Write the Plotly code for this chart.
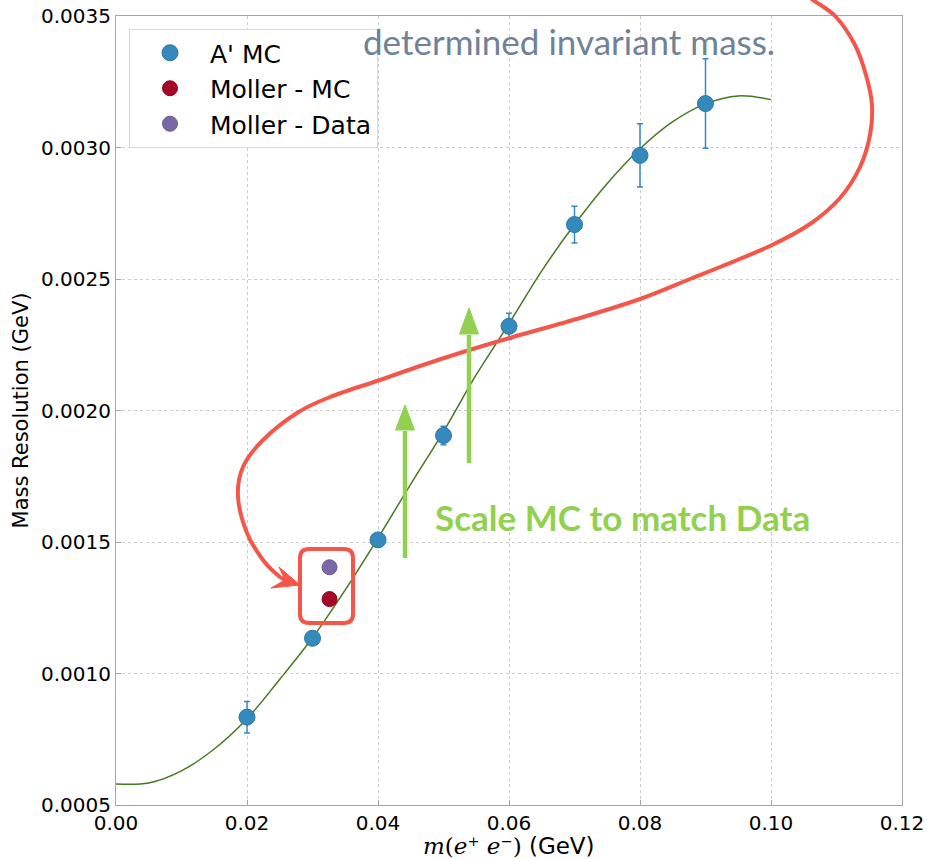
import plotly.graph_objects as go

# A' MC mass-resolution points
ap_mass = [0.02, 0.03, 0.04, 0.05, 0.06, 0.07, 0.08, 0.09]
ap_res = [0.000834, 0.001134, 0.001508, 0.001905, 0.00232, 0.002707, 0.00297, 0.003167]
ap_err = [0.00006, 0.00002, 0.00002, 0.000035, 0.00005, 0.00007, 0.00012, 0.00017]

# Moller points
moller_mass = [0.0326]
moller_mc_res = [0.001283]
moller_mc_err = [0.00002]
moller_data_res = [0.001404]
moller_data_err = [0.00002]

# Fitted resolution curve (sampled)
fit_mass = [0.0, 0.005, 0.01, 0.015, 0.02, 0.025, 0.03, 0.035, 0.04, 0.045, 0.05,
            0.055, 0.06, 0.065, 0.07, 0.075, 0.08, 0.085, 0.09, 0.095, 0.1]
fit_res = [0.00058, 0.000584, 0.00063, 0.000713, 0.000828, 0.000978, 0.001136,
           0.001318, 0.001515, 0.00172, 0.00192, 0.002136, 0.00233, 0.002531,
           0.002707, 0.002863, 0.002995, 0.003098, 0.003166, 0.003196, 0.003182]

x_ticks = [0.0, 0.02, 0.04, 0.06, 0.08, 0.10, 0.12]
y_ticks = [0.0005, 0.0010, 0.0015, 0.0020, 0.0025, 0.0030, 0.0035]

BLUE = "#348ABD"
RED = "#A60628"
PURPLE = "#7A68A6"
GREEN_FIT = "#467821"
ANNO_RED = "#F4574A"
ANNO_GREEN = "#92D050"
NOTE_GREY = "#6F8296"

W, H = 930, 859
PL, PR, PT, PB = 116, 902, 16, 805


def px(x):
    return (x - PL) / (PR - PL)


def py(y):
    return (PB - y) / (PB - PT)


def smooth_path(pts):
    """Catmull-Rom spline through pixel points, returned as a paper-space SVG path."""
    out = "M %.5f %.5f" % (px(pts[0][0]), py(pts[0][1]))
    n = len(pts)
    for i in range(n - 1):
        p0 = pts[i - 1] if i > 0 else pts[i]
        p1 = pts[i]
        p2 = pts[i + 1]
        p3 = pts[i + 2] if i + 2 < n else pts[i + 1]
        c1 = (p1[0] + (p2[0] - p0[0]) / 6, p1[1] + (p2[1] - p0[1]) / 6)
        c2 = (p2[0] - (p3[0] - p1[0]) / 6, p2[1] - (p3[1] - p1[1]) / 6)
        out += " C %.5f %.5f %.5f %.5f %.5f %.5f" % (
            px(c1[0]), py(c1[1]), px(c2[0]), py(c2[1]), px(p2[0]), py(p2[1]))
    return out


def poly_path(pts):
    s = "M " + " L ".join("%.5f %.5f" % (px(a), py(b)) for a, b in pts)
    return s + " Z"


def rounded_rect(x0, y0, x1, y1, r):
    pts = [
        ("M", (x0 + r, y0)), ("L", (x1 - r, y0)), ("Q", (x1, y0), (x1, y0 + r)),
        ("L", (x1, y1 - r)), ("Q", (x1, y1), (x1 - r, y1)), ("L", (x0 + r, y1)),
        ("Q", (x0, y1), (x0, y1 - r)), ("L", (x0, y0 + r)), ("Q", (x0, y0), (x0 + r, y0)),
    ]
    s = ""
    for seg in pts:
        s += seg[0] + " " + " ".join("%.5f %.5f" % (px(p[0]), py(p[1])) for p in seg[1:]) + " "
    return s + "Z"


fig = go.Figure()

fig.add_trace(go.Scatter(
    x=fit_mass, y=fit_res, mode="lines", line=dict(color=GREEN_FIT, width=1.5, shape="spline"),
    showlegend=False, hoverinfo="skip"))

fig.add_trace(go.Scatter(
    x=ap_mass, y=ap_res, mode="markers", name="A' MC", legendgroup="a",
    marker=dict(color=BLUE, size=16, line=dict(color="#2C75A3", width=1)),
    error_y=dict(type="data", array=ap_err, color=BLUE, thickness=1.5, width=3)))

fig.add_trace(go.Scatter(
    x=moller_mass, y=moller_mc_res, mode="markers", name="Moller - MC", legendgroup="b",
    marker=dict(color=RED, size=15, line=dict(color="#8C0522", width=1)),
    error_y=dict(type="data", array=moller_mc_err, color=RED, thickness=1.5, width=3)))

fig.add_trace(go.Scatter(
    x=moller_mass, y=moller_data_res, mode="markers", name="Moller - Data", legendgroup="c",
    marker=dict(color=PURPLE, size=15, line=dict(color="#685892", width=1)),
    error_y=dict(type="data", array=moller_data_err, color=PURPLE, thickness=1.5, width=3)))

# Hand-drawn red callout loop ending on the Moller box
loop_pts = [(792, -14), (813, 0), (836, 17), (855, 45), (866, 75), (872, 105), (870, 135),
            (860, 167), (840, 198), (810, 224), (770, 246), (720, 267), (690, 279),
            (640, 299), (580, 318), (513, 337), (463, 352), (420, 366), (380, 380),
            (330, 397), (297, 413), (263, 440), (243, 467), (238, 497), (247, 533),
            (263, 560), (280, 577), (292, 583)]
shapes = [
    dict(type="path", xref="paper", yref="paper", path=smooth_path(loop_pts),
         line=dict(color=ANNO_RED, width=4)),
    dict(type="path", xref="paper", yref="paper",
         path=poly_path([(300, 585), (279, 567), (285, 580), (271, 588)]),
         fillcolor=ANNO_RED, line=dict(color=ANNO_RED, width=1)),
    dict(type="path", xref="paper", yref="paper", path=rounded_rect(300, 549, 353, 623, 9),
         line=dict(color=ANNO_RED, width=4)),
]

# Green "scale up" arrows
for xs, y_bot, y_base, y_tip in [(405, 558, 430, 405), (469, 463, 334, 308)]:
    shapes.append(dict(type="line", xref="paper", yref="paper",
                       x0=px(xs), x1=px(xs), y0=py(y_bot), y1=py(y_base + 1),
                       line=dict(color=ANNO_GREEN, width=4.5)))
    shapes.append(dict(type="path", xref="paper", yref="paper",
                       path=poly_path([(xs, y_tip), (xs + 9.5, y_base), (xs - 9.5, y_base)]),
                       fillcolor=ANNO_GREEN, line=dict(color=ANNO_GREEN, width=1)))

annotations = [
    dict(text="Scale MC to match Data", xref="paper", yref="paper",
         x=px(622.5), y=py(517), xanchor="center", yanchor="middle", showarrow=False,
         font=dict(family="Lato", size=35, color=ANNO_GREEN, weight="bold")),
    dict(text="determined invariant mass.", xref="paper", yref="paper",
         x=px(569), y=py(41), xanchor="center", yanchor="middle", showarrow=False,
         font=dict(family="Lato", size=35, color=NOTE_GREY)),
    # x-axis title, placed explicitly in the bottom margin
    dict(text="<span style='font-family:DejaVu Serif'><i>m</i>(<i>e⁺ e⁻</i>)</span> (GeV)",
         xref="paper", yref="paper", x=0.5, y=py(846), xanchor="center", yanchor="middle",
         showarrow=False, font=dict(family="DejaVu Sans", size=23, color="black")),
]

axis_common = dict(
    showline=True, mirror=True, linecolor="#a6a6a6", linewidth=1,
    showgrid=True, gridcolor="#cccccc", griddash="dot", gridwidth=1,
    ticks="inside", ticklen=5, tickcolor="#a6a6a6", zeroline=False,
    tickfont=dict(family="DejaVu Sans", size=20, color="black"),
)

fig.update_layout(
    width=W, height=H,
    margin=dict(l=PL, r=W - PR, t=PT, b=H - PB, autoexpand=False),
    paper_bgcolor="white", plot_bgcolor="white",
    xaxis=dict(axis_common, range=[0, 0.12], tickvals=x_ticks, tickformat=".2f"),
    yaxis=dict(axis_common, range=[0.0005, 0.0035], tickvals=y_ticks, tickformat=".4f",
               title=dict(text="Mass Resolution (GeV)",
                          font=dict(family="DejaVu Sans", size=21, color="black"), standoff=6)),
    legend=dict(x=px(129), y=py(29), xanchor="left", yanchor="top",
                bgcolor="white", bordercolor="#d9d9d9", borderwidth=1,
                font=dict(family="DejaVu Sans", size=25, color="black"),
                tracegroupgap=0, itemwidth=70),
    shapes=shapes, annotations=annotations,
)

fig.write_html("out.html")
